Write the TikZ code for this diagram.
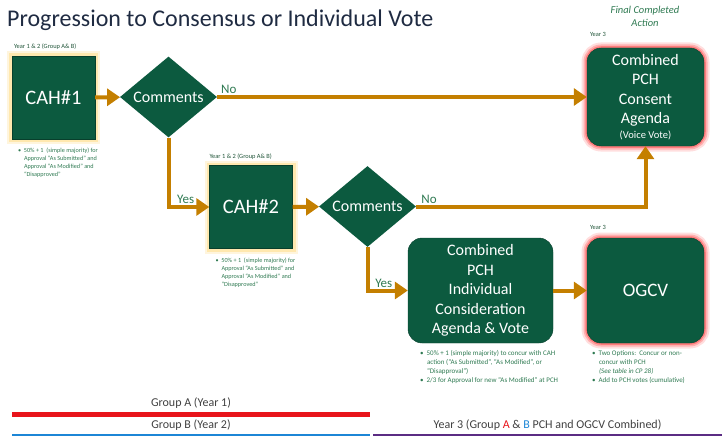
\documentclass[tikz,border=0pt]{standalone}
\usepackage{fontspec}
\setmainfont{Carlito}
\usetikzlibrary{arrows.meta,calc,shapes.geometric,positioning}
\definecolor{boxgreen}{HTML}{0C5A3F}
\definecolor{flow}{HTML}{C47F00}
\definecolor{notegreen}{HTML}{2F7A52}
\definecolor{titleblue}{HTML}{1F2B42}
\definecolor{glowred}{HTML}{FF5A5A}
\definecolor{glowyellow}{HTML}{FFD877}
\definecolor{grpred}{HTML}{E8141B}
\definecolor{grpblue}{HTML}{1C86D6}
\definecolor{grppurple}{HTML}{5B2C83}
\definecolor{labelgray}{HTML}{404040}

\begin{document}
\begin{tikzpicture}[x=1pt, y=-1pt]
    \useasboundingbox (0,0) rectangle (726,436);
    \tikzset{CahBox/.style={draw=boxgreen!70!black, fill=boxgreen,
        text=white, inner sep=0pt,
        minimum width=83pt, minimum height=83pt,
        font=\fontsize{20.5}{22}\selectfont,
        preaction={draw=glowyellow, line width=10pt, opacity=.25},
        preaction={draw=glowyellow, line width=6pt, opacity=.45}},
      PchBox/.style={draw=boxgreen!70!black, fill=boxgreen,
        text=white, inner sep=0pt, rounded corners=14pt, align=center,
        font=\fontsize{16}{19.5}\selectfont},
      FinalBox/.style={PchBox,
        minimum width=117pt,
        preaction={draw=glowred, line width=11pt, opacity=.2},
        preaction={draw=glowred, line width=7pt, opacity=.35},
        preaction={draw=glowred, line width=3.5pt, opacity=.6}},
      Decision/.style={diamond, fill=boxgreen, text=white, inner sep=0pt,
        minimum width=97pt, minimum height=67pt,
        font=\fontsize{16}{17}\selectfont},
      Flow/.style={draw=flow, line width=4pt,
        -{Triangle[length=13pt, width=17pt]}},
      FlowLabel/.style={text=notegreen, font=\fontsize{13}{14}\selectfont,
        inner sep=1pt},
      Note/.style={text=notegreen, font=\fontsize{6.2}{8}\selectfont,
        align=left, inner sep=0pt},
      BigNote/.style={Note, font=\fontsize{7}{9}\selectfont},
      YearTag/.style={text=notegreen!70!black,
        font=\fontsize{6.4}{7}\selectfont, inner sep=0pt, anchor=south west},
      GroupLabel/.style={text=labelgray, font=\fontsize{12}{13}\selectfont}}
    \node[text=titleblue, font=\fontsize{24}{26}\selectfont, anchor=base west,
      inner sep=0pt] (title) at (7,27)
      {Progression to Consensus or Individual Vote};
    \node[text=notegreen, font=\fontsize{10.5}{13}\selectfont\itshape,
      align=center, inner sep=0pt] (final) at (645,16.5)
      {Final Completed\\Action};
    \node[CahBox] (cah1) at (53.5,97.5) {CAH\#1};
    \node[Decision] (com1) at (168.5,97) {Comments};
    \node[FinalBox, minimum height=98pt] (consent) at (645.5,97)
      {Combined\\PCH\\Consent\\Agenda\\[-5pt]{\fontsize{10.5}{12}\selectfont(Voice Vote)}};
    \node[CahBox] (cah2) at (251,207) {CAH\#2};
    \node[Decision] (com2) at (367.5,206.5) {Comments};
    \node[PchBox, minimum width=145pt, minimum height=105pt] (indiv)
      at (480.5,290.5)
      {Combined\\PCH\\Individual\\Consideration\\Agenda \& Vote};
    \node[FinalBox, minimum height=105pt,
      font=\fontsize{19}{22}\selectfont] (ogcv) at (645.5,290.5) {OGCV};
    \node[YearTag] (yr1) at ($(cah1.north west) + (2,-6)$)
      {Year 1 \& 2 (Group A\& B)};
    \node[YearTag] (yr2) at ($(cah2.north west) + (0,-6)$)
      {Year 1 \& 2 (Group A\& B)};
    \node[YearTag] (yr3a) at ($(consent.north west) + (3,-11)$) {Year 3};
    \node[YearTag] (yr3b) at ($(ogcv.north west) + (3,-8)$) {Year 3};
    \node[Note, anchor=north west] (note1) at ($(cah1.south west) + (6,9)$)
      {\textbullet\ \ 50\% + 1\ \ (simple majority) for\\
       \hspace*{6pt}Approval “As Submitted” and\\
       \hspace*{6pt}Approval “As Modified” and\\
       \hspace*{6pt}“Disapproved”};
    \node[Note, anchor=north west] (note2) at ($(cah2.south west) + (6,9)$)
      {\textbullet\ \ 50\% + 1\ \ (simple majority) for\\
       \hspace*{6pt}Approval “As Submitted” and\\
       \hspace*{6pt}Approval “As Modified” and\\
       \hspace*{6pt}“Disapproved”};
    \node[BigNote, anchor=north west] (note3) at ($(indiv.south west) + (12,7)$)
      {\textbullet\ \ 50\% + 1 (simple majority) to concur with CAH\\
       \hspace*{7pt}action (“As Submitted”, “As Modified”, or\\
       \hspace*{7pt}“Disapproval”)\\
       \textbullet\ \ 2/3 for Approval for new “As Modified” at PCH};
    \node[BigNote, anchor=north west] (note4) at ($(ogcv.south west) + (5,7)$)
      {\textbullet\ \ Two Options:\ \ Concur or non-\\
       \hspace*{7pt}concur with PCH\\
       \hspace*{7pt}\textit{(See table in CP 28)}\\
       \textbullet\ \ Add to PCH votes (cumulative)};
    \draw[Flow] (cah1) -- (com1);
    \draw[Flow] (com1) -- node[FlowLabel, pos=0, anchor=south west, xshift=1pt] {No} (consent);
    \draw[Flow] (com1.south) |- node[FlowLabel, pos=0.57, anchor=south west] {Yes} (cah2.west);
    \draw[Flow] (cah2) -- (com2);
    \draw[Flow] (com2.east) -| node[FlowLabel, pos=0.005, anchor=south west] {No} (consent.south);
    \draw[Flow] (com2.south) |- node[FlowLabel, pos=0.56, anchor=south west] {Yes} (indiv.west);
    \draw[Flow] (indiv) -- (ogcv);
    \coordinate (aL) at (12,414.5);
    \coordinate (aR) at (370,414.5);
    \coordinate (bL) at (12,435);
    \coordinate (bR) at (370,435);
    \coordinate (cL) at (373,435);
    \coordinate (cR) at (722,435);
    \draw[grpred, line width=4.5pt] (aL) -- node[GroupLabel, above=0pt] {Group A (Year 1)} (aR);
    \draw[grpblue, line width=3pt] (bL) -- node[GroupLabel, above=0pt] {Group B (Year 2)} (bR);
    \draw[grppurple, line width=3pt] (cL) -- node[GroupLabel, above=0pt]
      {Year 3 (Group \textcolor{grpred}{A} \& \textcolor{grpblue}{B} PCH and OGCV Combined)} (cR);
\end{tikzpicture}
\end{document}
